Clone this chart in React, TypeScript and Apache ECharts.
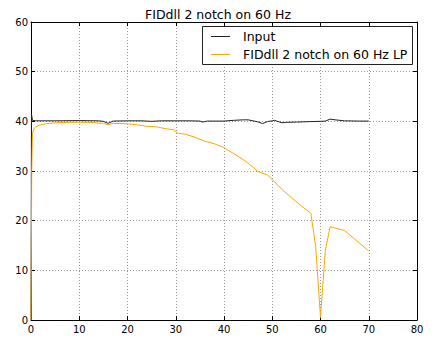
import React, { useEffect, useRef } from "react";
import * as echarts from "echarts";

const titleText = "FIDdll 2 notch on 60 Hz";
const inputName = "Input";
const lpName = "FIDdll 2 notch on 60 Hz LP";

const xTicks = [0, 10, 20, 30, 40, 50, 60, 70, 80];
const yTicks = [0, 10, 20, 30, 40, 50, 60];

const inputX = [0, 0.1, 0.3, 1, 5, 10, 14, 15, 16, 17, 20, 23, 25, 27, 30, 33, 35, 35.6, 36.5, 40, 42, 44, 45, 46, 47, 48, 49, 50, 50.5, 52, 53, 55, 58, 60, 61, 62, 63, 65, 68, 70];
const inputY = [0, 41.5, 40.2, 40.1, 40.1, 40.15, 40.1, 40, 39.6, 40.05, 40.1, 40.1, 40, 40.1, 40.1, 40.1, 40.05, 39.85, 40.05, 40.05, 40.2, 40.3, 40.3, 40.1, 39.9, 39.55, 39.95, 40.1, 40.2, 39.7, 39.8, 39.85, 39.95, 40, 40.05, 40.45, 40.3, 40.1, 40.05, 40.05];

const lpX = [0, 0.15, 0.3, 0.6, 1, 2, 3, 5, 8, 12, 15, 16, 17, 20, 22, 24, 26, 28, 29.5, 30.5, 32, 34, 36, 38, 40, 42, 44, 46, 47, 49, 50, 52, 54, 56, 58, 59, 60, 61, 62, 65, 70];
const lpY = [0, 30, 37.5, 38.5, 38.9, 39.3, 39.5, 39.7, 39.8, 39.8, 39.6, 39.3, 39.6, 39.5, 39.3, 39.0, 38.9, 38.5, 38.3, 37.6, 37.4, 36.8, 36.0, 35.5, 34.7, 33.5, 32.3, 30.8, 29.9, 29.2, 28.3, 26.3, 24.6, 23.0, 21.5, 14.8, 0.5, 14.0, 18.8, 18.0, 13.9];

const GL = 31, GT = 22, GW = 386, GH = 298;

export default function App() {
  const ref = useRef<HTMLDivElement>(null);
  useEffect(() => {
    if (!ref.current) return;
    const chart = echarts.init(ref.current, null, { renderer: "svg" });
    const font = "DejaVu Sans";
    const gridLine = { show: true, lineStyle: { color: "#999", type: [1, 2], width: 1 } };
    const baseX = {
      type: "value",
      min: 0,
      max: 80,
      interval: 10,
      axisLine: { show: true, onZero: false, lineStyle: { color: "#000", width: 1 } },
      axisTick: { show: true, inside: true, length: 4, lineStyle: { color: "#000" } },
    };
    const baseY = {
      type: "value",
      min: 0,
      max: 60,
      interval: 10,
      axisLine: { show: true, onZero: false, lineStyle: { color: "#000", width: 1 } },
      axisTick: { show: true, inside: true, length: 4, lineStyle: { color: "#000" } },
    };
    chart.setOption({
      animation: false,
      backgroundColor: "#fff",
      title: {
        text: titleText,
        left: "center",
        top: 3,
        textStyle: { fontFamily: font, fontSize: 12.5, fontWeight: "normal", color: "#000" },
      },
      grid: { left: GL, top: GT, width: GW, height: GH, containLabel: false },
      xAxis: [
        {
          ...baseX,
          position: "bottom",
          splitLine: gridLine,
          axisLabel: { fontFamily: font, fontSize: 10, color: "#000", margin: 4 },
        },
        { ...baseX, position: "top", splitLine: { show: false }, axisLabel: { show: false } },
      ],
      yAxis: [
        {
          ...baseY,
          position: "left",
          splitLine: gridLine,
          axisLabel: { fontFamily: font, fontSize: 10, color: "#000", margin: 3 },
        },
        { ...baseY, position: "right", splitLine: { show: false }, axisLabel: { show: false } },
      ],
      series: [
        {
          name: inputName,
          type: "line",
          data: inputX.map((x, i) => [x, inputY[i]]),
          showSymbol: false,
          lineStyle: { color: "#222", width: 1 },
          z: 3,
        },
        {
          name: lpName,
          type: "line",
          data: lpX.map((x, i) => [x, lpY[i]]),
          showSymbol: false,
          lineStyle: { color: "#FFA500", width: 1 },
          z: 4,
        },
      ],
      graphic: [
        {
          type: "rect",
          shape: { x: 202.5, y: 26.5, width: 210, height: 38 },
          style: { fill: "#fff", stroke: "#222", lineWidth: 1 },
          z: 100,
        },
        {
          type: "line",
          shape: { x1: 211, y1: 36.5, x2: 230, y2: 36.5 },
          style: { stroke: "#222", lineWidth: 1 },
          z: 101,
        },
        {
          type: "line",
          shape: { x1: 211, y1: 54.5, x2: 230, y2: 54.5 },
          style: { stroke: "#FFA500", lineWidth: 1 },
          z: 101,
        },
        {
          type: "text",
          x: 243,
          y: 36.5,
          style: { text: inputName, fontFamily: font, fontSize: 12.5, fill: "#000", verticalAlign: "middle" },
          z: 101,
        },
        {
          type: "text",
          x: 243,
          y: 54.5,
          style: { text: lpName, fontFamily: font, fontSize: 12.5, fill: "#000", verticalAlign: "middle" },
          z: 101,
        },
      ],
    });
    return () => chart.dispose();
  }, []);
  return <div ref={ref} style={{ position: "fixed", left: 0, top: 0, width: 436, height: 342 }} />;
}
